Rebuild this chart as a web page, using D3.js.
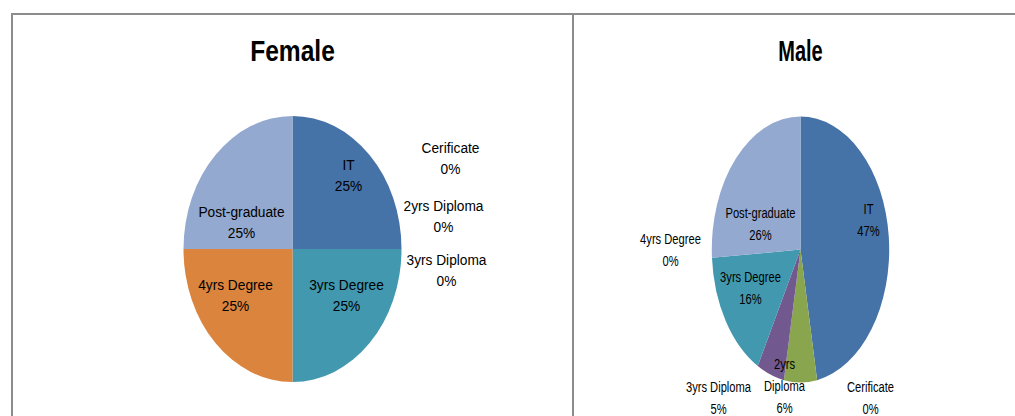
<!DOCTYPE html>
<html>
<head>
<meta charset="utf-8">
<script src="https://cdn.jsdelivr.net/npm/d3@7"></script>
<style>
  body { margin: 0; background: #fff; }
  svg { display: block; font-family: "Liberation Sans", Arial, sans-serif; }
</style>
</head>
<body>
<div id="chart"></div>
<script>
// categories in Excel's series order (clockwise from 12 o'clock)
const categories = ['IT', 'Cerificate', '2yrs Diploma', '3yrs Diploma', '3yrs Degree', '4yrs Degree', 'Post-graduate'];
const femaleValues = [25, 0, 0, 0, 25, 25, 25];
const maleValues = [47, 0, 6, 5, 16, 0, 26];
const sliceColors = ['#4572A7', '#AA4643', '#89A54E', '#71588F', '#4198AF', '#DB843D', '#93A9CF'];

// label block centres, offset from pie centre in screen pixels (layout only)
const femaleLabelPos = [[56, -74], [158, -91], [151, -33], [154, 21], [54, 46], [-57, 46], [-51, -27]];
const maleLabelPos = [[68, -30], [70, 148], [-16, 136], [-82, 148], [-50, 38], [-130, 0], [-40, -26]];
// the 2yrs Diploma label on the male pie wraps onto two lines
const maleLabelLines = [null, null, ['2yrs', 'Diploma'], null, null, null, null];

const width = 1015, height = 416;
const radius = 133;
const lineH = 22;

const svg = d3.select('#chart').append('svg')
    .attr('width', width)
    .attr('height', height);

// frame
const frame = svg.append('g').attr('stroke', '#8c8c8c').attr('stroke-width', 2);
frame.append('line').attr('x1', 11).attr('x2', width).attr('y1', 14).attr('y2', 14);
frame.append('line').attr('x1', 12).attr('x2', 12).attr('y1', 14).attr('y2', height);
frame.append('line').attr('x1', 573).attr('x2', 573).attr('y1', 14).attr('y2', height);

const pie = d3.pie().sort(null).value(d => d);
const arc = d3.arc().innerRadius(0).outerRadius(radius);

function drawPie(title, values, cx, cy, sx, labelPos, labelLines) {
    // title
    svg.append('text')
        .attr('transform', `translate(${cx},61) scale(${sx},1)`)
        .attr('text-anchor', 'middle')
        .style('font-size', '30px')
        .style('font-weight', 'bold')
        .attr('fill', '#000')
        .text(title);

    // pie, squeezed horizontally like the original picture
    const g = svg.append('g')
        .attr('transform', `translate(${cx},${cy}) scale(${sx},1)`);

    g.selectAll('path')
        .data(pie(values))
        .enter()
        .append('path')
        .attr('d', arc)
        .attr('fill', (d, i) => sliceColors[i]);

    // labels
    const total = d3.sum(values);
    categories.forEach((cat, i) => {
        const pct = Math.round(values[i] / total * 100) + '%';
        const lines = (labelLines && labelLines[i] ? labelLines[i] : [cat]).concat([pct]);
        const t = svg.append('text')
            .attr('transform', `translate(${cx + labelPos[i][0]},${cy + labelPos[i][1]}) scale(${sx * 1.08},1)`)
            .attr('text-anchor', 'middle')
            .style('font-size', '15.5px')
            .attr('fill', '#000');
        const y0 = -(lines.length - 1) * lineH / 2 + 5.5;
        lines.forEach((ln, j) => {
            t.append('tspan')
                .attr('x', 0)
                .attr('y', y0 + j * lineH)
                .text(ln);
        });
    });
}

drawPie('Female', femaleValues, 292.5, 249, 109 / 133, femaleLabelPos, null);
drawPie('Male', maleValues, 800.5, 249.5, 88.7 / 133, maleLabelPos, maleLabelLines);
</script>
</body>
</html>
